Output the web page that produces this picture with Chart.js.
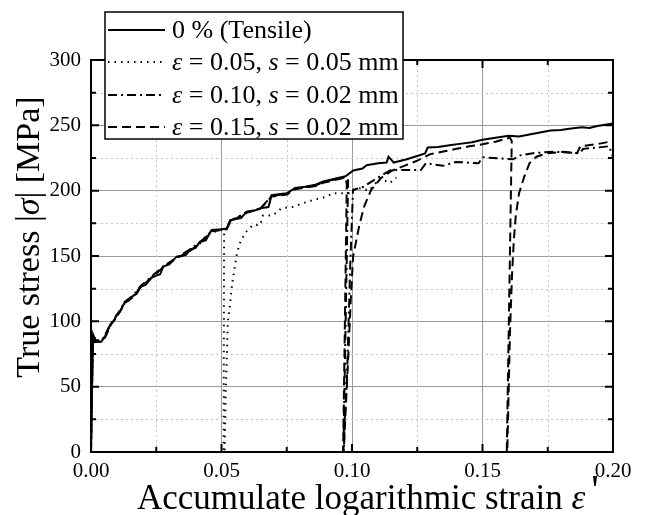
<!DOCTYPE html>
<html>
<head>
<meta charset="utf-8">
<script src="https://cdn.jsdelivr.net/npm/chart.js"></script>
<style>
  body { margin: 0; background: #fff; }
</style>
</head>
<body>
<canvas id="stressChart" width="648" height="515"></canvas>
<script>
// strain / stress values
const tensileX = [0, 0.0005, 0.0008, 0.0012, 0.0015, 0.004, 0.0055, 0.006, 0.0075, 0.009, 0.0098, 0.011, 0.013, 0.0145, 0.0158, 0.0175, 0.019, 0.021, 0.0232, 0.025, 0.0265, 0.0277, 0.030, 0.0328, 0.035, 0.0365, 0.0379, 0.040, 0.0418, 0.044, 0.0462, 0.050, 0.052, 0.0533, 0.0575, 0.0596, 0.063, 0.0648, 0.068, 0.0692, 0.075, 0.0782, 0.082, 0.086, 0.089, 0.093, 0.0975, 0.1005, 0.104, 0.1056, 0.110, 0.1133, 0.114, 0.116, 0.121, 0.125, 0.128, 0.129, 0.133, 0.138, 0.142, 0.146, 0.150, 0.155, 0.160, 0.164, 0.168, 0.172, 0.176, 0.180, 0.184, 0.188, 0.191, 0.194, 0.197, 0.200];
const tensileY = [0, 60, 90, 88, 84, 84.5, 89, 91, 98, 101, 105, 107, 115, 116, 119, 121, 126.5, 128, 133.5, 135, 136, 142, 143.5, 149.5, 150, 151, 155, 156, 161, 162, 170, 170.5, 171, 177.5, 179, 184, 185, 186.5, 187.5, 196.5, 198, 202, 203, 204.5, 207, 209, 211, 215.5, 217, 219.5, 221, 221.5, 226, 221.5, 224, 226.5, 228.5, 233, 233.5, 235, 236, 237, 239, 240.5, 242, 241.5, 243, 244.5, 246, 246.5, 247.5, 248.5, 248, 249.5, 250.5, 251.5];

const e05X = [0, 0.0006, 0.001, 0.003, 0.005, 0.0075, 0.01, 0.013, 0.016, 0.019, 0.023, 0.0275, 0.033, 0.038, 0.042, 0.046, 0.0505, 0.051, 0.0508, 0.0512, 0.0516, 0.0522, 0.0524, 0.0533, 0.0541, 0.055, 0.0559, 0.0571, 0.059, 0.062, 0.0648, 0.0659, 0.0697, 0.073, 0.0775, 0.0812, 0.085, 0.0903, 0.0927, 0.099, 0.1, 0.1034, 0.1065, 0.1107, 0.1145, 0.117];
const e05Y = [0, 80, 85, 84, 87, 97, 104, 114, 119, 126, 133, 141, 149, 154, 160, 168, 170, 168, 0, 0, 45, 83, 99, 114, 129, 140.6, 152, 160, 167.6, 173.7, 173.7, 181, 181, 186.6, 187.6, 190.4, 192.8, 195.4, 198, 198, 200.5, 202, 200, 209.5, 205.8, 210];

const e10X = [0, 0.0007, 0.0012, 0.004, 0.0055, 0.0075, 0.01, 0.013, 0.016, 0.019, 0.023, 0.0277, 0.033, 0.038, 0.042, 0.0462, 0.052, 0.0535, 0.0596, 0.0648, 0.0692, 0.075, 0.0782, 0.086, 0.089, 0.0975, 0.0985, 0.0967, 0.0969, 0.0972, 0.098, 0.0987, 0.0993, 0.1, 0.1004, 0.1044, 0.1096, 0.1149, 0.1207, 0.1264, 0.1283, 0.1348, 0.1398, 0.1485, 0.15, 0.1617, 0.1644, 0.1693, 0.177, 0.1874, 0.1885, 0.194, 0.1985, 0.2];
const e10Y = [0, 88, 86, 85, 90, 98, 105, 115, 119.5, 127, 134, 142, 149, 155, 161, 169, 171, 177, 183.5, 186, 196, 197.5, 201.5, 204, 206.5, 210.5, 208, 0, 0, 25, 53, 98.6, 141.6, 180, 200.5, 203, 209.6, 215.8, 215.8, 215.8, 221, 219, 222, 221, 225.6, 224, 227, 228.7, 229.8, 228.7, 232, 233, 234, 226];

const e15X = [0, 0.0007, 0.0012, 0.004, 0.0055, 0.0075, 0.01, 0.013, 0.016, 0.019, 0.023, 0.0277, 0.033, 0.038, 0.042, 0.0462, 0.052, 0.0535, 0.0596, 0.0648, 0.0692, 0.075, 0.0782, 0.086, 0.089, 0.0975, 0.098, 0.0966, 0.0968, 0.0985, 0.0995, 0.1004, 0.1027, 0.1046, 0.1073, 0.111, 0.115, 0.12, 0.125, 0.13, 0.135, 0.14, 0.145, 0.15, 0.155, 0.1605, 0.1612, 0.1593, 0.1595, 0.1605, 0.1613, 0.162, 0.1627, 0.164, 0.166, 0.168, 0.1707, 0.1746, 0.181, 0.1862, 0.1875, 0.195, 0.2];
const e15Y = [0, 86, 85, 84, 88, 97, 104, 114, 118.5, 126, 133, 141.5, 148.5, 154, 160, 169, 170.5, 176.5, 183, 186, 195.5, 197, 201, 203.5, 206, 210, 205, 0, 0, 70, 115, 149.5, 172.4, 187.7, 200.5, 209.5, 215, 219, 223, 228, 230, 232, 234, 235.5, 237.5, 240.5, 238, 0, 0, 90, 135, 162, 180, 198, 210.7, 221, 226, 228.6, 229.8, 228.7, 234, 236, 238];

const seriesNames = ['0 % (Tensile)', 'ε = 0.05, s = 0.05 mm', 'ε = 0.10, s = 0.02 mm', 'ε = 0.15, s = 0.02 mm'];
const seriesDash = [[], [1.5, 5], [9, 4, 2, 4], [9, 5]];

// axis titles, split where the symbol is italic
const xTitle = [['Accumulate logarithmic strain ', false], ['ε', true]];
const yTitle = [['True stress |', false], ['σ', true], ['| [MPa]', false]];

const serif = "'Liberation Serif', 'Times New Roman', serif";

function toPoints(xs, ys) {
  return xs.map((v, i) => ({ x: v, y: ys[i] }));
}

function isMajorX(v) { return Math.round(v * 1000) % 50 === 0; }
function isMajorY(v) { return Math.round(v) % 50 === 0; }

function drawParts(ctx, parts, x, y, size) {
  parts.forEach(([txt, it]) => {
    ctx.font = (it ? 'italic ' : '') + size + 'px ' + serif;
    ctx.fillText(txt, x, y);
    x += ctx.measureText(txt).width;
  });
  return x;
}

function partsWidth(ctx, parts, size) {
  let w = 0;
  parts.forEach(([txt, it]) => {
    ctx.font = (it ? 'italic ' : '') + size + 'px ' + serif;
    w += ctx.measureText(txt).width;
  });
  return w;
}

// dotted minor grid, inward ticks and closed frame
const frame = {
  id: 'frame',
  beforeDatasetsDraw(chart) {
    const { ctx, chartArea: a, scales: { x, y } } = chart;
    ctx.save();
    ctx.strokeStyle = '#c4c4c4';
    ctx.lineWidth = 1;
    ctx.setLineDash([2, 3]);
    x.ticks.forEach(t => {
      if (isMajorX(t.value)) return;
      const px = Math.round(x.getPixelForValue(t.value)) + 0.5;
      ctx.beginPath(); ctx.moveTo(px, a.top); ctx.lineTo(px, a.bottom); ctx.stroke();
    });
    y.ticks.forEach(t => {
      if (isMajorY(t.value)) return;
      const py = Math.round(y.getPixelForValue(t.value)) + 0.5;
      ctx.beginPath(); ctx.moveTo(a.left, py); ctx.lineTo(a.right, py); ctx.stroke();
    });
    ctx.restore();
  },
  afterDatasetsDraw(chart) {
    const { ctx, chartArea: a, scales: { x, y } } = chart;
    ctx.save();
    ctx.strokeStyle = '#000';
    ctx.lineWidth = 2;
    ctx.setLineDash([]);
    x.ticks.forEach(t => {
      const px = x.getPixelForValue(t.value);
      const len = isMajorX(t.value) ? 8 : 5;
      ctx.beginPath();
      ctx.moveTo(px, a.bottom); ctx.lineTo(px, a.bottom - len);
      ctx.moveTo(px, a.top); ctx.lineTo(px, a.top + len);
      ctx.stroke();
    });
    y.ticks.forEach(t => {
      const py = y.getPixelForValue(t.value);
      const len = isMajorY(t.value) ? 8 : 5;
      ctx.beginPath();
      ctx.moveTo(a.left, py); ctx.lineTo(a.left + len, py);
      ctx.moveTo(a.right, py); ctx.lineTo(a.right - len, py);
      ctx.stroke();
    });
    ctx.strokeRect(a.left, a.top, a.right - a.left, a.bottom - a.top);
    ctx.restore();
  }
};

// axis titles with italic symbols
const titles = {
  id: 'titles',
  afterDraw(chart) {
    const ctx = chart.ctx;
    ctx.save();
    ctx.fillStyle = '#000';
    ctx.textBaseline = 'alphabetic';
    ctx.textAlign = 'left';
    // x title, the prime sits high after the epsilon
    let end = drawParts(ctx, xTitle, 137, 509, 35);
    ctx.font = '42px ' + serif;
    ctx.fillText("'", end + 6, 504);
    // y title, rotated
    const w = partsWidth(ctx, yTitle, 34);
    ctx.translate(39, 237);
    ctx.rotate(-Math.PI / 2);
    drawParts(ctx, yTitle, -w / 2, 0, 34);
    ctx.restore();
  }
};

// legend box sitting over the top edge of the plot
const legendBox = {
  id: 'legendBox',
  afterDraw(chart) {
    const ctx = chart.ctx;
    const bx = 105, by = 12, bw = 298, bh = 127;
    const rows = [30, 62, 95, 127];
    ctx.save();
    ctx.fillStyle = '#fff';
    ctx.fillRect(bx, by, bw, bh);
    ctx.strokeStyle = '#000';
    ctx.lineWidth = 1.5;
    ctx.strokeRect(bx, by, bw, bh);
    ctx.textBaseline = 'middle';
    ctx.fillStyle = '#000';
    seriesNames.forEach((name, i) => {
      const ry = rows[i];
      ctx.setLineDash(seriesDash[i]);
      ctx.lineWidth = 2;
      ctx.beginPath(); ctx.moveTo(108, ry); ctx.lineTo(165, ry); ctx.stroke();
      ctx.setLineDash([]);
      // italic for the symbols ε and s
      const parts = name.split(/(ε|\bs\b)/).filter(p => p !== '').map(p => [p, p === 'ε' || p === 's']);
      drawParts(ctx, parts, 172, ry + 1, 26);
    });
    ctx.restore();
  }
};

const ctx = document.getElementById('stressChart').getContext('2d');
const myChart = new Chart(ctx, {
  type: 'scatter',
  data: {
    datasets: [
      { label: seriesNames[0], data: toPoints(tensileX, tensileY), borderDash: seriesDash[0] },
      { label: seriesNames[1], data: toPoints(e05X, e05Y), borderDash: seriesDash[1] },
      { label: seriesNames[2], data: toPoints(e10X, e10Y), borderDash: seriesDash[2] },
      { label: seriesNames[3], data: toPoints(e15X, e15Y), borderDash: seriesDash[3] }
    ].map(d => Object.assign(d, {
      showLine: true, borderColor: '#000', borderWidth: 2, pointRadius: 0, tension: 0, fill: false
    }))
  },
  options: {
    responsive: false,
    animation: false,
    layout: { padding: { top: 60, right: 35, left: 0, bottom: 0 } },
    plugins: { legend: { display: false }, tooltip: { enabled: false } },
    scales: {
      x: {
        type: 'linear', min: 0, max: 0.2,
        afterFit: s => { s.height = 63; },
        border: { display: false },
        grid: { drawTicks: false, color: c => isMajorX(c.tick.value) ? '#9a9a9a' : 'rgba(0,0,0,0)', lineWidth: 1 },
        ticks: {
          stepSize: 0.025, autoSkip: false, maxRotation: 0, padding: 7, color: '#000',
          font: { family: serif, size: 21 },
          callback: v => isMajorX(v) ? v.toFixed(2) : ''
        }
      },
      y: {
        type: 'linear', min: 0, max: 300,
        afterFit: s => { s.width = 91; },
        border: { display: false },
        grid: { drawTicks: false, color: c => isMajorY(c.tick.value) ? '#9a9a9a' : 'rgba(0,0,0,0)', lineWidth: 1 },
        ticks: {
          stepSize: 25, autoSkip: false, padding: 10, color: '#000',
          font: { family: serif, size: 21 },
          callback: v => isMajorY(v) ? String(v) : ''
        }
      }
    }
  },
  plugins: [frame, titles, legendBox]
});
</script>
</body>
</html>
